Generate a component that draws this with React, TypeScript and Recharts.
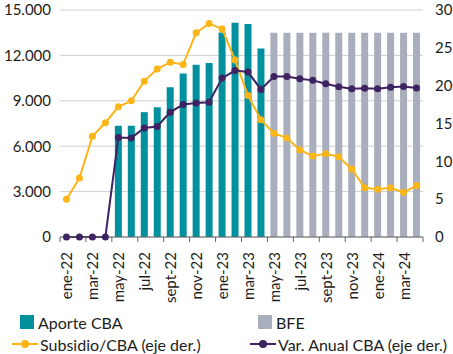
import React from 'react';
import {
  ComposedChart,
  Bar,
  Line,
  XAxis,
  YAxis,
  CartesianGrid,
} from 'recharts';

const months = [
  'ene-22', 'feb-22', 'mar-22', 'abr-22', 'may-22', 'jun-22', 'jul-22', 'ago-22',
  'sept-22', 'oct-22', 'nov-22', 'dic-22', 'ene-23', 'feb-23', 'mar-23', 'abr-23',
  'may-23', 'jun-23', 'jul-23', 'ago-23', 'sept-23', 'oct-23', 'nov-23', 'dic-23',
  'ene-24', 'feb-24', 'mar-24', 'abr-24',
];

const aporteCBA = [
  null, null, null, null, 7350, 7350, 8250, 8580, 9900, 10800, 11380, 11490,
  13520, 14160, 14070, 12460, null, null, null, null, null, null, null, null,
  null, null, null, null,
];

const bfe = [
  null, null, null, null, null, null, null, null, null, null, null, null,
  null, null, null, null, 13500, 13500, 13500, 13500, 13500, 13500, 13500, 13500,
  13500, 13500, 13500, 13500,
];

const subsidioCBA = [
  5.0, 7.8, 13.3, 15.1, 17.2, 18.0, 20.6, 22.2, 23.1, 22.8, 27.0, 28.2,
  27.5, 23.4, 18.7, 15.5, 13.7, 13.1, 11.5, 10.7, 11.0, 10.6, 9.0, 6.5,
  6.3, 6.5, 5.9, 6.8,
];

const varAnualCBA = [
  0, 0, 0, 0, 13.15, 13.1, 14.4, 14.6, 16.5, 17.5, 17.7, 17.8,
  21.0, 22.0, 21.8, 19.5, 21.2, 21.2, 20.9, 20.7, 20.25, 19.85, 19.6, 19.65,
  19.6, 19.8, 19.9, 19.7,
];

const leftTicks = [0, 3000, 6000, 9000, 12000, 15000];
const rightTicks = [0, 5, 10, 15, 20, 25, 30];

const data = months.map((m, i) => ({
  month: m,
  aporte: aporteCBA[i],
  bfe: bfe[i],
  subsidio: subsidioCBA[i],
  varAnual: varAnualCBA[i],
}));

const TEAL = '#00909E';
const GREY = '#A8AEBB';
const ORANGE = '#FBB516';
const PURPLE = '#3E2262';
const TEXT = '#1d1d1b';
const FONT = 'Lato, "Open Sans", sans-serif';

const W = 453;
const H = 310;
const LEFT_W = 60;
const RIGHT_W = 30;
const BAND = (W - LEFT_W - RIGHT_W) / months.length;

function fmtThousands(v: number): string {
  return String(v).replace(/\B(?=(\d{3})+(?!\d))/g, '.');
}

// category labels every other month, tick marks on the band edges (Excel style)
function MonthTick(props: any) {
  const { x, y, payload, index } = props;
  const last = index === months.length - 1;
  return (
    <g>
      {index % 2 === 0 && (
        <line x1={x - BAND / 2} x2={x - BAND / 2} y1={y - 8} y2={y - 3} stroke="#666" />
      )}
      {last && (
        <line x1={x + BAND / 2} x2={x + BAND / 2} y1={y - 8} y2={y - 3} stroke="#666" />
      )}
      {index % 2 === 0 && (
        <text
          x={x}
          y={y + 7}
          transform={`rotate(-90, ${x}, ${y + 7})`}
          textAnchor="end"
          dominantBaseline="central"
          fontSize={15}
          fontFamily={FONT}
          fill={TEXT}
        >
          {payload.value}
        </text>
      )}
    </g>
  );
}

function LegendItem({ kind, color, label }: { kind: 'box' | 'line'; color: string; label: string }) {
  return (
    <div style={{ display: 'flex', alignItems: 'center', height: 22 }}>
      {kind === 'box' ? (
        <span style={{ width: 14, height: 14, background: color, margin: '0 4px 0 8px', display: 'inline-block' }} />
      ) : (
        <svg width={26} height={12} style={{ marginRight: 2 }}>
          <line x1={0} x2={26} y1={6} y2={6} stroke={color} strokeWidth={2} />
          <circle cx={13} cy={6} r={4} fill={color} />
        </svg>
      )}
      <span>{label}</span>
    </div>
  );
}

export default function App() {
  return (
    <div style={{ position: 'absolute', left: 0, top: 0, width: W, height: 354, background: '#fff', fontFamily: FONT, color: TEXT }}>
      <ComposedChart
        width={W}
        height={H}
        data={data}
        margin={{ top: 10, right: 0, left: 0, bottom: 0 }}
      >
        <CartesianGrid vertical={false} yAxisId="left" stroke="#cfcfcf" />
        <XAxis
          dataKey="month"
          interval={0}
          height={73}
          tickLine={false}
          axisLine={{ stroke: '#666' }}
          tick={<MonthTick />}
        />
        <YAxis
          yAxisId="left"
          width={LEFT_W}
          domain={[0, 15000]}
          ticks={leftTicks}
          tickFormatter={fmtThousands}
          axisLine={false}
          tickLine={false}
          tick={{ fontSize: 15, fill: TEXT, fontFamily: FONT }}
          tickMargin={3}
        />
        <YAxis
          yAxisId="right"
          orientation="right"
          width={RIGHT_W}
          domain={[0, 30]}
          ticks={rightTicks}
          axisLine={false}
          tickLine={false}
          tick={{ fontSize: 15, fill: TEXT, fontFamily: FONT, textAnchor: 'start' }}
          tickMargin={6}
        />
        <Bar yAxisId="left" dataKey="aporte" stackId="a" fill={TEAL} barSize={7} isAnimationActive={false} />
        <Bar yAxisId="left" dataKey="bfe" stackId="a" fill={GREY} barSize={7} isAnimationActive={false} />
        <Line
          yAxisId="right"
          dataKey="subsidio"
          stroke={ORANGE}
          strokeWidth={2}
          dot={{ r: 3.5, fill: ORANGE, stroke: ORANGE, strokeWidth: 0 }}
          isAnimationActive={false}
        />
        <Line
          yAxisId="right"
          dataKey="varAnual"
          stroke={PURPLE}
          strokeWidth={2}
          dot={{ r: 3.5, fill: PURPLE, stroke: PURPLE, strokeWidth: 0 }}
          isAnimationActive={false}
        />
      </ComposedChart>
      <div style={{ position: 'absolute', top: 311, left: 0, width: W, fontSize: 16, display: 'grid', gridTemplateColumns: '238px 215px' }}>
        <div style={{ paddingLeft: 12 }}><LegendItem kind="box" color={TEAL} label="Aporte CBA" /></div>
        <div style={{ paddingLeft: 12 }}><LegendItem kind="box" color={GREY} label="BFE" /></div>
        <div style={{ paddingLeft: 12 }}><LegendItem kind="line" color={ORANGE} label="Subsidio/CBA (eje der.)" /></div>
        <div style={{ paddingLeft: 12 }}><LegendItem kind="line" color={PURPLE} label="Var. Anual CBA (eje der.)" /></div>
      </div>
    </div>
  );
}
